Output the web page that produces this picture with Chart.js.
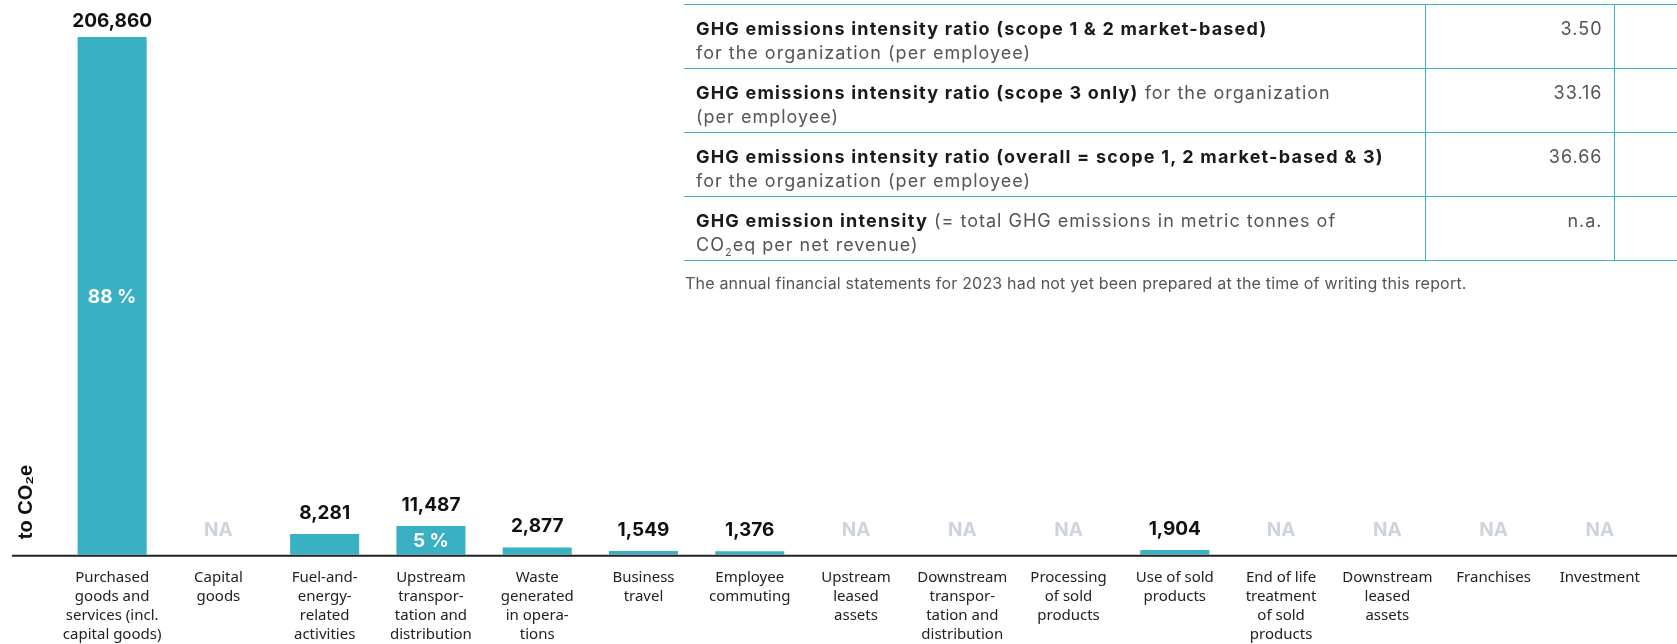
<!DOCTYPE html>
<html>
<head>
<meta charset="utf-8">
<script src="https://cdn.jsdelivr.net/npm/chart.js@4"></script>
<style>
  html, body { margin: 0; padding: 0; background: #fff; }
  body { width: 1677px; height: 644px; position: relative; overflow: hidden; }
  #chart { position: absolute; left: 0; top: 0; }
  #intensity { position: absolute; left: 684px; top: 4px; width: 1010px; table-layout: fixed; border-collapse: collapse; font-family: "Inter", sans-serif; font-size: 18px; letter-spacing: 1px; color: #555; }
  #intensity td { border-top: 1.5px solid #3ab4c5; border-bottom: 1.5px solid #3ab4c5; height: 48px; padding: 0; vertical-align: top; line-height: 24px; white-space: nowrap; }
  #intensity td.label { padding: 12px 0 3px 12px; }
  #intensity td.val { text-align: right; padding: 12px 11px 3px 0; border-left: 1.5px solid #3ab4c5; border-right: 1.5px solid #3ab4c5; }
  #intensity b { color: #1a1a1a; font-weight: 700; letter-spacing: 1.2px; }
  #note { position: absolute; left: 685px; top: 273px; font-family: "Inter", sans-serif; font-size: 16px; letter-spacing: 0.2px; color: #555; }
</style>
</head>
<body>
<canvas id="chart" width="1677" height="644"></canvas>

<table id="intensity">
  <colgroup><col style="width:741px"><col style="width:189px"><col style="width:80px"></colgroup>
  <tr><td class="label"><b>GHG emissions intensity ratio (scope 1 &amp; 2 market-based)</b><br>for the organization (per employee)</td><td class="val">3.50</td><td></td></tr>
  <tr><td class="label"><b>GHG emissions intensity ratio (scope 3 only)</b> for the organization<br>(per employee)</td><td class="val">33.16</td><td></td></tr>
  <tr><td class="label"><b>GHG emissions intensity ratio (overall = scope 1, 2 market-based &amp; 3)</b><br>for the organization (per employee)</td><td class="val">36.66</td><td></td></tr>
  <tr><td class="label"><b>GHG emission intensity</b> (= total GHG emissions in metric tonnes of<br>CO<sub style="font-size:11px;line-height:0">2</sub>eq per net revenue)</td><td class="val">n.a.</td><td></td></tr>
</table>
<div id="note">The annual financial statements for 2023 had not yet been prepared at the time of writing this report.</div>

<script>
// ***************************************************************************************************
// Dados do gráfico (escopo 3, t CO2e por categoria)

const categories = [
    ['Purchased', 'goods and', 'services (incl.', 'capital goods)'],
    ['Capital', 'goods'],
    ['Fuel-and-', 'energy-', 'related', 'activities'],
    ['Upstream', 'transpor-', 'tation and', 'distribution'],
    ['Waste', 'generated', 'in opera-', 'tions'],
    ['Business', 'travel'],
    ['Employee', 'commuting'],
    ['Upstream', 'leased', 'assets'],
    ['Downstream', 'transpor-', 'tation and', 'distribution'],
    ['Processing', 'of sold', 'products'],
    ['Use of sold', 'products'],
    ['End of life', 'treatment', 'of sold', 'products'],
    ['Downstream', 'leased', 'assets'],
    ['Franchises'],
    ['Investment']
];

const emissions = [206860, null, 8281, 11487, 2877, 1549, 1376, null, null, null, 1904, null, null, null, null];

const shares = ['88 %', null, null, '5 %', null, null, null, null, null, null, null, null, null, null, null];

const yAxisTitle = 'to CO\u2082e';

// ***************************************************************************************************

const BAR_COLOR = '#3ab0c3';
const NA_COLOR = '#cdd4dd';

const barLabels = {
    id: 'barLabels',
    afterDatasetsDraw(chart) {
        const ctx = chart.ctx;
        const xs = chart.scales.x;
        const ys = chart.scales.y;
        const meta = chart.getDatasetMeta(0);
        const zero = ys.getPixelForValue(0);

        ctx.save();
        // linha de base
        ctx.strokeStyle = '#222';
        ctx.lineWidth = 2;
        ctx.beginPath();
        ctx.moveTo(12, zero + 1);
        ctx.lineTo(chart.width, zero + 1);
        ctx.stroke();

        ctx.textAlign = 'center';
        ctx.textBaseline = 'middle';
        ctx.font = 'bold 19px "Inter", sans-serif';
        for (let i = 0; i < emissions.length; i++) {
            const x = xs.getPixelForValue(i);
            if (emissions[i] == null) {
                ctx.fillStyle = NA_COLOR;
                ctx.fillText('NA', x, zero - 25);
                continue;
            }
            const bar = meta.data[i];
            ctx.fillStyle = '#111';
            // o rótulo não pode sair do topo do canvas
            ctx.fillText(emissions[i].toLocaleString('en-US'), x, Math.max(bar.y - 21, 21));
            if (shares[i]) {
                ctx.fillStyle = '#fff';
                ctx.fillText(shares[i], x, (bar.y + bar.base) / 2 + 1);
            }
        }

        // titulo do eixo y (cortado como no original)
        ctx.translate(26, 502);
        ctx.rotate(-Math.PI / 2);
        ctx.font = 'bold 20px "Liberation Sans", sans-serif';
        ctx.fillStyle = '#111';
        ctx.fillText(yAxisTitle, 0, 0);
        ctx.restore();
    }
};

const ctx = document.getElementById('chart').getContext('2d');

new Chart(ctx, {
    type: 'bar',
    data: {
        labels: categories,
        datasets: [{
            data: emissions,
            backgroundColor: BAR_COLOR,
            borderWidth: 0,
            barPercentage: 0.65,
            categoryPercentage: 1
        }]
    },
    options: {
        responsive: false,
        animation: false,
        layout: {
            padding: { left: 59, right: 24, top: 37, bottom: -13 }
        },
        plugins: {
            legend: { display: false },
            tooltip: { enabled: false }
        },
        scales: {
            x: {
                grid: { display: false, drawTicks: false },
                border: { display: false },
                ticks: {
                    autoSkip: false,
                    maxRotation: 0,
                    minRotation: 0,
                    padding: 13,
                    color: '#222',
                    font: { family: '"Noto Sans", sans-serif', size: 15, lineHeight: 1.27 }
                }
            },
            y: {
                display: false,
                min: 0,
                max: 206860
            }
        }
    },
    plugins: [barLabels]
});
</script>
</body>
</html>
